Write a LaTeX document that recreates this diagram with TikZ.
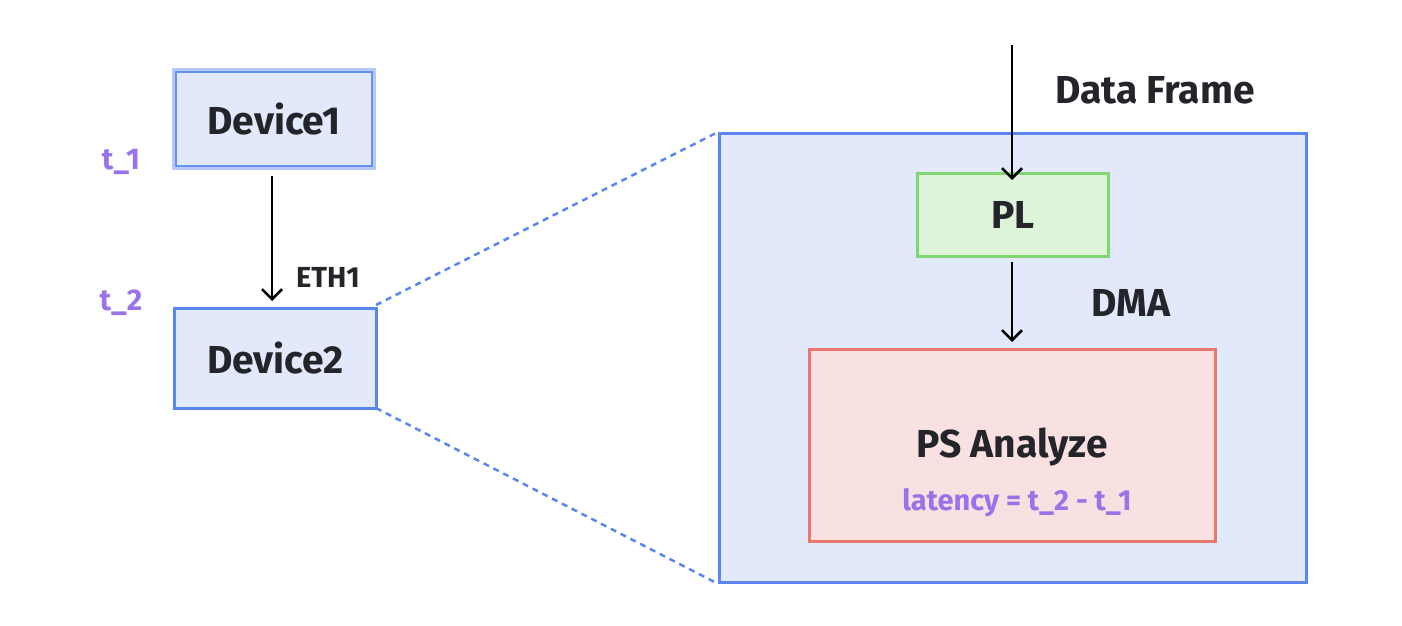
\documentclass[tikz,border=0pt]{standalone}
\usepackage{fontspec}
\setmainfont{Fira Sans}[UprightFont=* Medium, BoldFont=* Bold]
\usetikzlibrary{arrows.meta}
\definecolor{bfill}{HTML}{E1E9FB}
\definecolor{bline}{HTML}{5B86F0}
\definecolor{bhalo}{HTML}{B5C8F8}
\definecolor{gfill}{HTML}{DEF4DA}
\definecolor{gline}{HTML}{80D670}
\definecolor{rfill}{HTML}{F8E1E0}
\definecolor{rline}{HTML}{E8776C}
\definecolor{purp}{HTML}{9A72EA}
\definecolor{ink}{HTML}{23252B}
\tikzset{
  box/.style={draw=bline, fill=bfill, line width=2.8pt, inner sep=0pt},
  lbl/.style={font=\fontsize{39}{45}\selectfont\bfseries, text=ink},
  small/.style={font=\fontsize{29}{34}\selectfont\bfseries, text=ink},
  tlab/.style={font=\fontsize{30}{35}\selectfont\bfseries, text=purp},
  arr/.style={-{Straight Barb[length=10pt,width=20pt,line width=2.6pt]}, line width=2.6pt, draw=black},
  zoomline/.style={draw=bline, line width=2.5pt, dash pattern=on 6pt off 5pt},
}
\begin{document}
\begin{tikzpicture}[x=1pt,y=-1pt]
\useasboundingbox (0,0) rectangle (1402,626);
% big box
\node[box, minimum width=587pt, minimum height=449pt, anchor=north west] (big) at (718,132) {};
% zoom lines
\draw[zoomline] (376,305) -- (big.north west);
\draw[zoomline] (376,408) -- (big.south west);
% Device1
\node[draw=bhalo, fill=bfill, line width=3.5pt, minimum width=201pt, minimum height=99pt, inner sep=0pt] (d1halo) at (274,119) {};
\node[draw=bline!85!bhalo, fill=bfill, line width=1.8pt, minimum width=196pt, minimum height=94pt, inner sep=0pt, lbl] (d1) at (d1halo.center) {Device1};
% Device2
\node[box, minimum width=202pt, minimum height=100pt, anchor=north west, lbl] (d2) at (173,307) {};
\node[lbl] at (d2.center) {Device2};
\node[tlab] (t1) at (121,162) {t\_1};
\node[tlab] (t2) at (121,303) {t\_2};
\coordinate (a1s) at (272,176);
\coordinate (a1e) at (272,301);
\draw[arr] (a1s) -- (a1e);
\node[small] (eth) at (328,277) {ETH1};
% PL
\node[draw=gline, fill=gfill, line width=2.8pt, minimum width=191pt, minimum height=83pt, inner sep=0pt, anchor=north west] (pl) at (916,172) {};
\node[lbl] at (pl.center) {PL};
% PS
\node[draw=rline, fill=rfill, line width=2.8pt, minimum width=406pt, minimum height=192pt, inner sep=0pt, anchor=north west] (ps) at (808,348) {};
\node[lbl] (psl) at (1012,447) {PS Analyze};
\node[font=\fontsize{29}{34}\selectfont\bfseries, text=purp] (lat) at (1017,503) {latency = t\_2 - t\_1};
% arrows
\coordinate (df) at (1012,45);
\coordinate (dfe) at (1012,180);
\draw[arr] (df) -- (dfe);
\node[lbl] (dfl) at (1155,90) {Data Frame};
\coordinate (ple) at (1012,342);
\draw[arr] (1012,262) -- (ple);
\node[lbl] (dma) at (1131,303) {DMA};
\end{tikzpicture}
\end{document}
